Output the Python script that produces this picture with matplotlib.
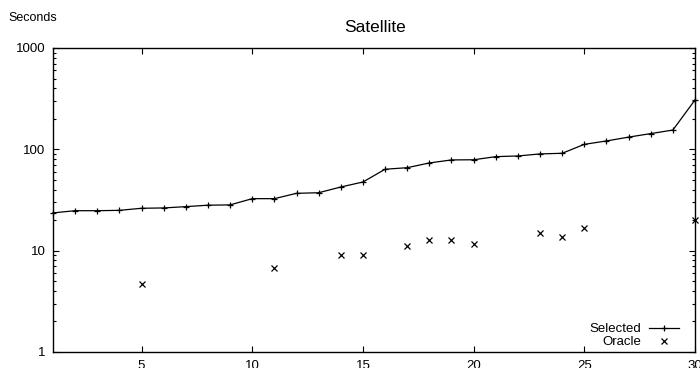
import matplotlib
matplotlib.use("Agg")
import matplotlib.pyplot as plt
from matplotlib.ticker import LogLocator, FixedLocator, NullFormatter

plt.rcParams['font.family'] = ['Liberation Sans', 'DejaVu Sans']

sel_x = list(range(1, 31))
sel_y = [23.6, 24.8, 24.8, 25.0, 26.2, 26.4, 27.2, 28.1, 28.3, 32.6,
         32.6, 36.8, 37.3, 42.5, 47.6, 63.6, 65.9, 73.4, 78.6, 78.9,
         84.7, 86.0, 90.1, 91.4, 112, 121, 132, 143, 155, 307]
ora_x = [5, 11, 14, 15, 17, 18, 19, 20, 23, 24, 25, 30]
ora_y = [4.66, 6.8, 9.1, 9.1, 11.0, 12.7, 12.7, 11.6, 15.1, 13.6, 16.9, 20.1]
x_ticks = [5, 10, 15, 20, 25, 30]
y_ticks = [1, 10, 100, 1000]
y_labels = ['1', '10', '100', '1000']

fig = plt.figure(figsize=(7, 3.68), dpi=100)
ax = fig.add_axes([53/700, 16/368, 642/700, 304/368])
ax.plot(sel_x, sel_y, color='black', lw=0.9, marker='+', ms=5, mew=0.9,
        label='Selected', clip_on=False)
ax.plot(ora_x, ora_y, color='black', lw=0, marker='x', ms=4, mew=0.9,
        label='Oracle', linestyle='none', clip_on=False)
ax.set_yscale('log')
ax.set_xlim(1, 30)
ax.set_ylim(1, 1000)
ax.xaxis.set_major_locator(FixedLocator(x_ticks))
ax.set_yticks(y_ticks)
ax.set_yticklabels(y_labels)
ax.yaxis.set_minor_locator(LogLocator(base=10, subs=range(2, 10)))
ax.yaxis.set_minor_formatter(NullFormatter())
ax.tick_params(which='both', direction='in', top=True, right=True,
               labelsize=9.5, width=0.8, colors='black')
ax.tick_params(axis='y', pad=5.5)
ax.tick_params(axis='x', pad=6)
ax.tick_params(which='major', length=4)
ax.tick_params(which='minor', length=2.2)
for s in ax.spines.values():
    s.set_linewidth(1.0)
fig.text(8/700, 1 - 18/368, 'Seconds', fontsize=9, va='center', ha='left')
fig.text(375/700, 1 - 27/368, 'Satellite', fontsize=12.5, va='center', ha='center')
leg = ax.legend(loc='lower right', markerfirst=False, frameon=False,
                fontsize=9.5, handlelength=2.3, handletextpad=0.6,
                labelspacing=0.05, borderaxespad=0.3,
                bbox_to_anchor=(0.99, -0.018))
for t in leg.get_texts():
    t.set_ha('right')
fig.savefig('out.png', dpi=100)
